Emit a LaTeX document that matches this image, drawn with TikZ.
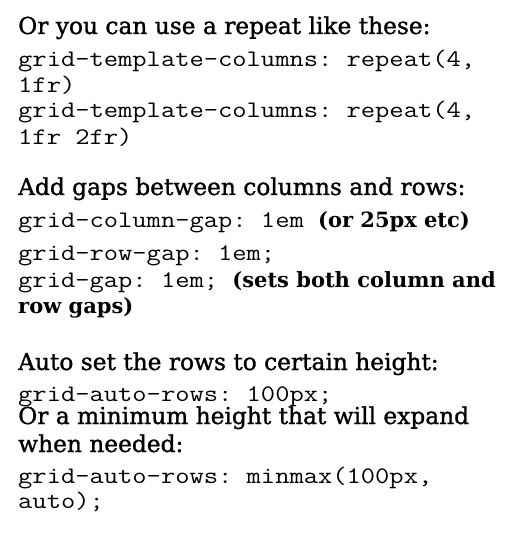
\documentclass[tikz,border=0pt]{standalone}
\usepackage{fontspec}
\setmainfont{DejaVu Serif}
\newfontfamily\headfont[FakeBold=1.2]{DejaVu Serif}
\setmonofont[FakeStretch=1.17]{Latin Modern Mono}
\usetikzlibrary{positioning}
\tikzset{head/.style={anchor=base west,inner sep=0pt,font=\fontsize{23.3}{26}\selectfont\headfont}}
\tikzset{code/.style={anchor=base west,inner sep=0pt,font=\fontsize{23.7}{26}\selectfont\ttfamily}}
\newcommand{\note}[1]{{\fontsize{21}{26}\selectfont\rmfamily\bfseries #1}}

\begin{document}
\begin{tikzpicture}[x=1pt,y=-1pt]
    \useasboundingbox (0,0) rectangle (521,537);

    \node[head] (rep) at (18,34) {Or you can use a repeat like these:};
    \node[code] (tc1) at (18,67) {grid-template-columns: repeat(4,};
    \node[code] (tc2) at (18,93) {1fr)};
    \node[code] (tc3) at (18,118) {grid-template-columns: repeat(4,};
    \node[code] (tc4) at (18,145) {1fr 2fr)};

    \node[head] (gap) at (18,195) {Add gaps between columns and rows:};
    \node[code] (cg) at (18,227) {grid-column-gap: 1em \note{(or 25px etc)}};
    \node[code] (rg) at (18,260) {grid-row-gap: 1em;};
    \node[code] (gg) at (18,287) {grid-gap: 1em; \note{(sets both column and}};
    \node[code] (gg2) at (18,313) {\note{row gaps)}};

    \node[head] (auto) at (18,370) {Auto set the rows to certain height:};
    \node[code] (ar) at (18,401) {grid-auto-rows: 100px;};
    \node[head] (min) at (18,424) {Or a minimum height that will expand};
    \node[head] (min2) at (18,452) {when needed:};
    \node[code] (mm1) at (18,483) {grid-auto-rows: minmax(100px,};
    \node[code] (mm2) at (18,508) {auto);};
\end{tikzpicture}
\end{document}
